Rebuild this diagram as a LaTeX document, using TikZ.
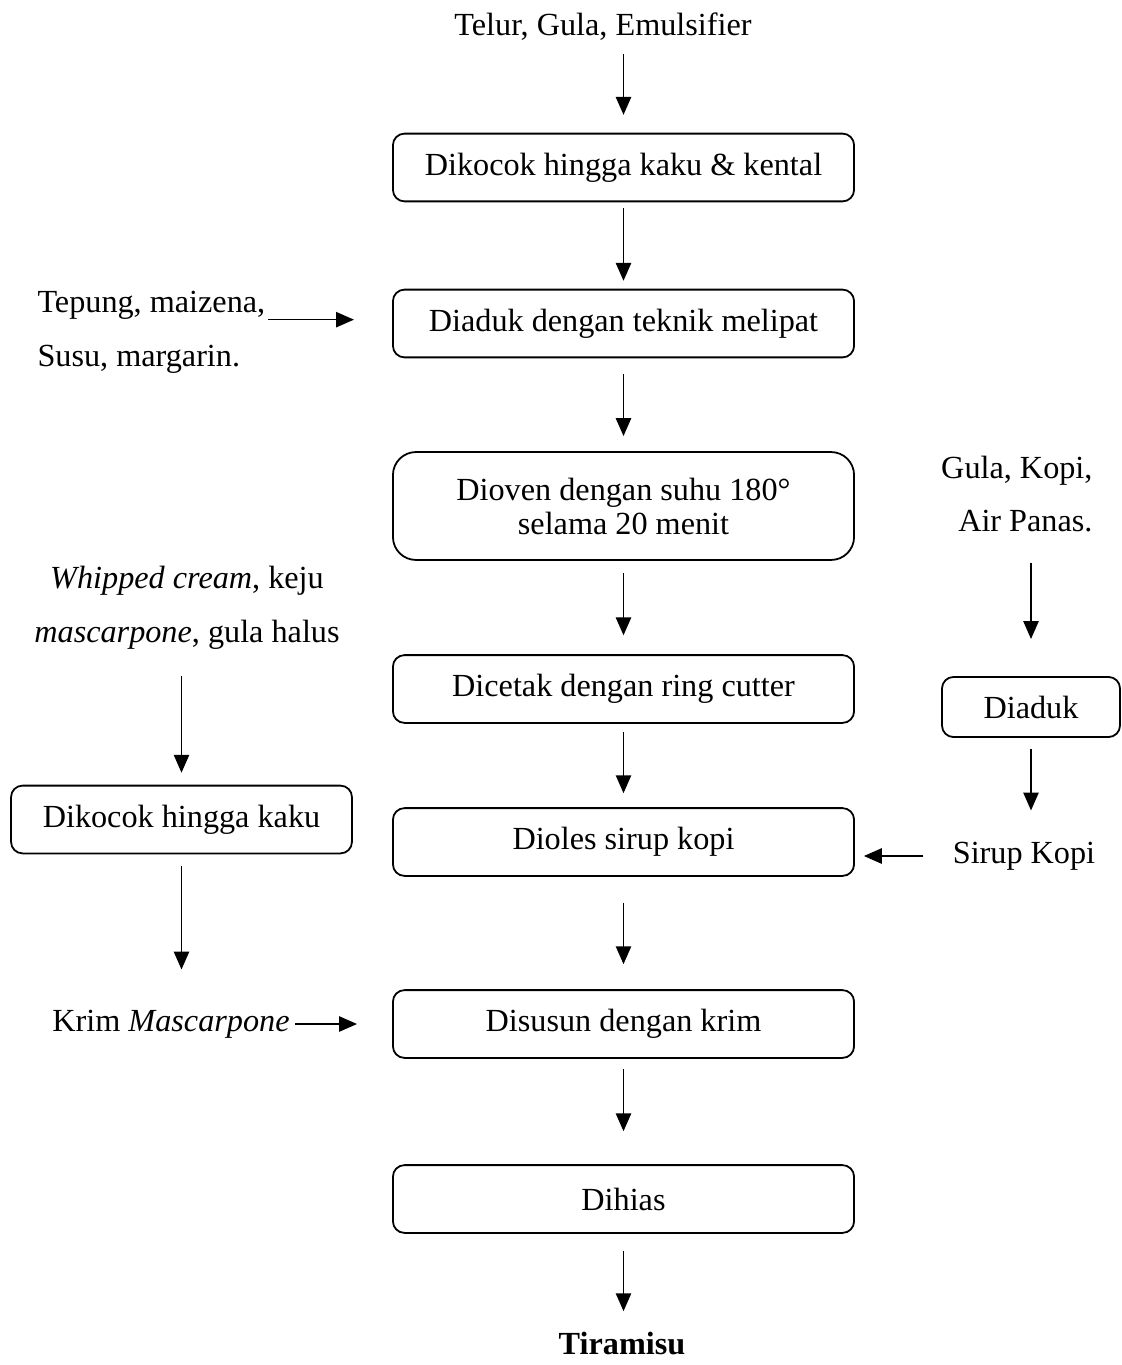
\documentclass[tikz,border=0pt]{standalone}
\usepackage{fontspec}
\setmainfont{Liberation Serif}
\usetikzlibrary{arrows.meta, positioning, calc}

\begin{document}
\begin{tikzpicture}[x=0.391pt, y=-0.391pt, >=Triangle,
    font=\fontsize{12.6}{14.5}\selectfont,
    stepbox/.style={draw, line width=0.7pt, rounded corners=4.5pt,
      minimum width=180.3pt, minimum height=26.5pt, inner sep=0pt},
    ovenbox/.style={stepbox, rounded corners=9pt, minimum height=42.2pt,
      align=center, font=\fontsize{12.6}{13.3}\selectfont},
    ingr/.style={inner sep=0pt, font=\fontsize{12.6}{21}\selectfont},
    flow/.style={-{Triangle[length=7pt, width=6pt]}, line width=0.6pt}]
  \useasboundingbox (0,0) rectangle (1122,1365);

  % main column
  \node[ingr] (telur) at (603,26.5) {Telur, Gula, Emulsifier};
  \node[stepbox] (kocok) at (623.5,167.5) {Dikocok hingga kaku \& kental};
  \node[stepbox] (aduk) at (623.5,323.5) {Diaduk dengan teknik melipat};
  \node[ovenbox] (oven) at (623.5,506)
    {Dioven dengan suhu 180°\\ selama 20 menit};
  \node[stepbox] (cetak) at (623.5,689) {Dicetak dengan ring cutter};
  \node[stepbox] (oles) at (623.5,842) {Dioles sirup kopi};
  \node[stepbox] (susun) at (623.5,1024) {Disusun dengan krim};
  \node[stepbox] (hias) at (623.5,1199) {Dihias};
  \node[ingr] (tiramisu) at (622,1343) {\bfseries Tiramisu};

  % left column (krim)
  \node[ingr, anchor=west, align=left] (tepung) at (37,332)
    {Tepung, maizena,\\ Susu, margarin.};
  \node[ingr, align=center] (whipped) at (187,608)
    {\textit{Whipped cream}, keju\\ \textit{mascarpone}, gula halus};
  \node[stepbox, minimum width=133.3pt] (kocokkrim) at (181.5,819.5)
    {Dikocok hingga kaku};
  \node[ingr] (krim) at (171,1024) {Krim \textit{Mascarpone}};

  % right column (sirup)
  \node[ingr, anchor=east, align=right] (gula) at (1093,494)
    {Gula, Kopi,\\ Air Panas.};
  \node[stepbox, minimum width=69.6pt, minimum height=23.5pt] (diaduk)
    at (1031,707) {Diaduk};
  \node[ingr] (sirup) at (1024,856) {Sirup Kopi};

  % arrows
  \draw[flow, shorten <=5.1pt, shorten >=7pt] (telur.south -| kocok) -- (kocok);
  \draw[flow, shorten <=2.3pt, shorten >=3.1pt] (kocok) -- (aduk);
  \draw[flow, shorten <=6.3pt, shorten >=5.9pt] (aduk) -- (oven);
  \draw[flow, shorten <=4.7pt, shorten >=7.4pt] (oven) -- (cetak);
  \draw[flow, shorten <=3.1pt, shorten >=5.5pt] (cetak) -- (oles);
  \draw[flow, shorten <=10.2pt, shorten >=9.8pt] (oles) -- (susun);
  \draw[flow, shorten <=3.9pt, shorten >=12.9pt] (susun) -- (hias);
  \draw[flow, shorten <=6.6pt, shorten >=7.8pt] (hias) -- (hias |- tiramisu.north);

  \draw[flow, shorten <=1pt, shorten >=14.9pt] ([yshift=1.5pt]tepung.east |- aduk) -- ([yshift=1.5pt]aduk.west);
  \draw[flow, shorten <=10.2pt, shorten >=4.7pt] (whipped.south -| kocokkrim) -- (kocokkrim);
  \draw[flow, shorten <=4.7pt, shorten >=15.6pt] (kocokkrim) -- (kocokkrim |- krim.north);
  \draw[flow, shorten <=2pt, shorten >=13.7pt] (krim.east) -- (krim.east -| susun.west);

  \draw[flow, shorten <=11.7pt, shorten >=14.5pt] (gula.south -| diaduk) -- (diaduk);
  \draw[flow, shorten <=4.3pt, shorten >=12.1pt] (diaduk) -- (diaduk |- sirup.north);
  \draw[flow, shorten <=11.3pt, shorten >=3.5pt] (sirup.west) -- (sirup.west -| oles.east);
\end{tikzpicture}
\end{document}
